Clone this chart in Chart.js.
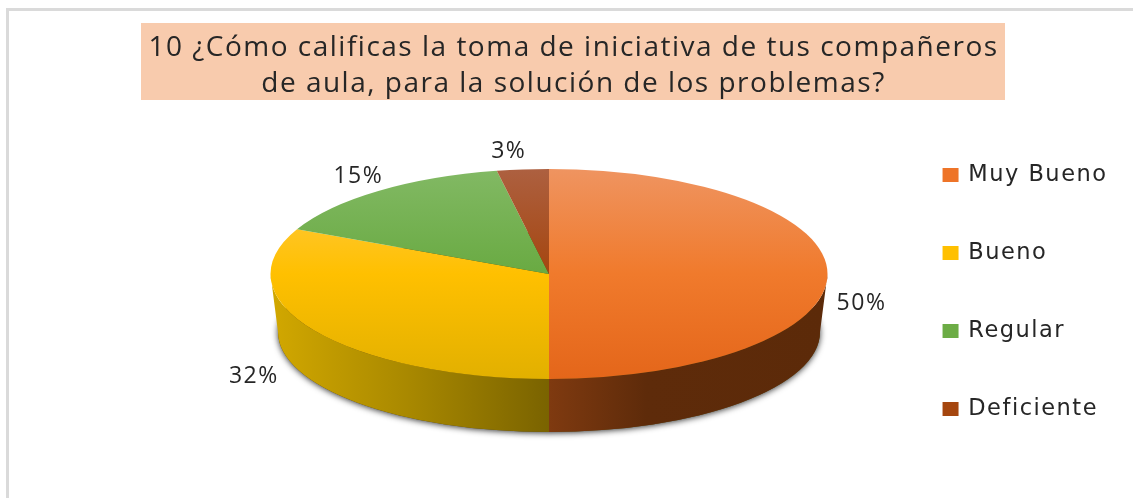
<!DOCTYPE html>
<html lang="es">
<head>
<meta charset="utf-8">
<script src="https://cdn.jsdelivr.net/npm/chart.js@4"></script>
<style>html,body{margin:0;padding:0;background:#fff}canvas{display:block}</style>
</head>
<body>
<canvas id="c" width="1133" height="498"></canvas>
<script>
const titleLines = ['10 ¿Cómo calificas la toma de iniciativa de tus compañeros', 'de aula, para la solución de los problemas?'];
const categories = ['Muy Bueno', 'Bueno', 'Regular', 'Deficiente'];
const values = [50, 32, 15, 3];
const baseColors = ['#EE7428', '#FFC000', '#6CAC45', '#A5460F'];
const topStops = [
  ['#EF9460', '#F07A2C', '#E4661A'],
  ['#FFCB50', '#FFC000', '#E2B000'],
  ['#82B964', '#69AA42', '#5FA038'],
  ['#AD6040', '#A5460F', '#963E05']
];
const wallStops = [
  ['#7F3A10', '#5E2B0A', '#5C2A09'],
  ['#D2A800', '#A88800', '#7A6300'],
  ['#3E6628', '#3E6628', '#3E6628'],
  ['#5E2B0A', '#5E2B0A', '#5E2B0A']
];
const labelOffsets = [[34, 29], [-60, 46], [-20, -15], [-14, -18]];
const FONT = '"Open Sans"';
const LEGEND_FONT = '"DejaVu Sans"';
const TEXT = '#262626';
const SPACING = '1.5px';
const pie3d = { cx: 549, cy: 274, rx: 278.5, ry: 105, bcy: 332, brx: 271, bry: 100 };

const shapePlugin = {
  id: 'shape',
  beforeInit(chart) { chart.ctx.letterSpacing = SPACING; },
  beforeUpdate(chart) { chart.ctx.letterSpacing = SPACING; },
  beforeDraw(chart) {
    const ctx = chart.ctx;
    ctx.letterSpacing = SPACING;
    ctx.save();
    ctx.fillStyle = '#FFFFFF';
    ctx.fillRect(0, 0, chart.width, chart.height);
    ctx.fillStyle = '#DADADA';
    ctx.fillRect(6, 8, 3, chart.height - 8);
    ctx.fillRect(6, 8, chart.width - 6, 3);
    ctx.fillStyle = '#F8CBAD';
    ctx.fillRect(141, 23, 864, 77);
    ctx.restore();
  },
  beforeDatasetsDraw(chart) {
    const ctx = chart.ctx, p = pie3d;
    const arcs = chart.getDatasetMeta(0).data;
    ctx.save();
    ctx.save();
    ctx.shadowColor = 'rgba(0,0,0,0.8)';
    ctx.shadowBlur = 6;
    ctx.shadowOffsetY = 1;
    ctx.fillStyle = '#5C4A10';
    ctx.beginPath();
    ctx.ellipse(p.cx, p.bcy, p.brx, p.bry, 0, 0, Math.PI * 2);
    ctx.fill();
    ctx.restore();
    arcs.forEach((arc, i) => {
      const s = Math.max(arc.startAngle, 0), e = Math.min(arc.endAngle, Math.PI);
      if (e <= s) return;
      const x0 = p.cx + p.rx * Math.cos(s), x1 = p.cx + p.rx * Math.cos(e);
      const g = ctx.createLinearGradient(Math.max(x0, x1), 0, Math.min(x0, x1), 0);
      const st = wallStops[i];
      if (i === 0) {
        g.addColorStop(0, st[2]); g.addColorStop(0.65, st[1]); g.addColorStop(1, st[0]);
      } else {
        g.addColorStop(0, st[2]); g.addColorStop(0.5, st[1]); g.addColorStop(1, st[0]);
      }
      ctx.fillStyle = g;
      ctx.beginPath();
      ctx.ellipse(p.cx, p.cy, p.rx, p.ry, 0, s, e, false);
      ctx.ellipse(p.cx, p.bcy, p.brx, p.bry, 0, e, s, true);
      ctx.closePath();
      ctx.fill();
    });
    const a = arcs[0];
    ctx.translate(p.cx, p.cy);
    ctx.scale(p.rx / a.outerRadius, p.ry / a.outerRadius);
    ctx.translate(-a.x, -a.y);
  },
  afterDatasetsDraw(chart) {
    const ctx = chart.ctx, p = pie3d;
    ctx.restore();
    const arcs = chart.getDatasetMeta(0).data;
    ctx.save();
    ctx.fillStyle = TEXT;
    ctx.font = '23px ' + FONT;
    ctx.textAlign = 'center';
    ctx.textBaseline = 'middle';
    arcs.forEach((arc, i) => {
      const m = (arc.startAngle + arc.endAngle) / 2;
      ctx.fillText(values[i] + '%',
        p.cx + p.rx * Math.cos(m) + labelOffsets[i][0],
        p.cy + p.ry * Math.sin(m) + labelOffsets[i][1]);
    });
    ctx.restore();
  }
};

new Chart(document.getElementById('c'), {
  type: 'pie',
  plugins: [shapePlugin],
  data: {
    labels: categories,
    datasets: [{
      data: values,
      clip: false,
      borderWidth: 0,
      backgroundColor(c) {
        const a = c.chart.chartArea;
        if (!a) return baseColors[c.dataIndex];
        const cy = (a.top + a.bottom) / 2, r = Math.min(a.width, a.height) / 2;
        const g = c.chart.ctx.createLinearGradient(0, cy - r, 0, cy + r);
        const st = topStops[c.dataIndex];
        g.addColorStop(0, st[0]);
        g.addColorStop(0.5, st[1]);
        g.addColorStop(1, st[2]);
        return g;
      }
    }]
  },
  options: {
    responsive: false,
    animation: false,
    events: [],
    layout: { padding: { top: 30, left: 29.5, right: 15.5, bottom: -56 } },
    plugins: {
      tooltip: { enabled: false },
      title: {
        display: true,
        text: titleLines,
        color: TEXT,
        font: { family: FONT, size: 28, weight: 'normal', lineHeight: 1.29 },
        padding: { top: 0, bottom: 10 }
      },
      legend: {
        position: 'right',
        labels: {
          boxWidth: 13,
          boxHeight: 11,
          padding: 55.5,
          color: TEXT,
          font: { family: LEGEND_FONT, size: 22.5 },
          generateLabels() {
            return categories.map((t, i) => ({
              text: t, fillStyle: baseColors[i], strokeStyle: baseColors[i],
              lineWidth: 3, hidden: false, index: i, fontColor: TEXT
            }));
          }
        }
      }
    }
  }
});
</script>
</body>
</html>
